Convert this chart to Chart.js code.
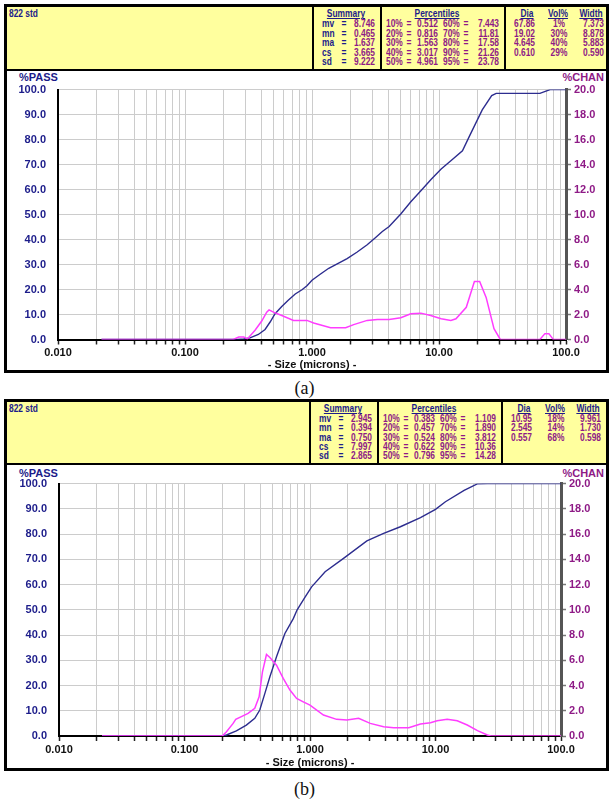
<!DOCTYPE html>
<html>
<head>
<meta charset="utf-8">
<script src="https://cdn.jsdelivr.net/npm/chart.js@4.4.1/dist/chart.umd.min.js"></script>
<style>
html,body{margin:0;padding:0;background:#fff;}
body{width:609px;height:800px;overflow:hidden;position:relative;font-family:"Liberation Sans",Arial,sans-serif;}
.box{position:absolute;box-sizing:border-box;border:3px solid #000;background:#fff;}
.hdr{position:absolute;box-sizing:border-box;background:#ffff9e;border-bottom:2px solid #000;}
.vdiv{position:absolute;width:2px;background:#000;}
.ht{position:absolute;transform-origin:0 50%;white-space:pre;font:bold 10.5px/14px "Liberation Sans",Arial,sans-serif;}
.lab{position:absolute;white-space:pre;font:bold 11px/14px "Liberation Sans",Arial,sans-serif;}
.cap{position:absolute;width:609px;left:0;text-align:center;font:18px/20px "Liberation Serif","DejaVu Serif",serif;color:#111;}
canvas{position:absolute;}
</style>
</head>
<body>
<script>
// ---------- data ----------
const xTickValues = [0.01, 0.1, 1, 10, 100];
const xTickLabels = ['0.010', '0.100', '1.000', '10.00', '100.0'];
const passTickValues = [0, 10, 20, 30, 40, 50, 60, 70, 80, 90, 100];
const chanTickValues = [0, 2, 4, 6, 8, 10, 12, 14, 16, 18, 20];

// (a) cumulative %PASS
const sizesPassA = [0.022, 0.26, 0.29, 0.325, 0.378, 0.427, 0.468, 0.512, 0.578, 0.653, 0.738, 0.834, 0.913, 1.0, 1.16, 1.355, 1.58, 1.89, 2.27, 2.72, 3.17, 3.58, 4.05, 5.0, 6.0, 7.2, 8.65, 10.4, 12.4, 15.3, 17.6, 21.9, 26.0, 28.2, 62.3, 75, 100];
const passA = [0, 0, 0.2, 0.66, 2.0, 4.0, 7.0, 10.3, 13.2, 15.8, 18.2, 19.9, 21.5, 23.7, 26.1, 28.5, 30.3, 32.4, 35.0, 37.9, 40.8, 43.2, 45.2, 50.2, 55.1, 59.5, 64.0, 68.2, 71.5, 75.5, 82.0, 91.9, 97.6, 98.5, 98.5, 100, 100];
// (a) channel %CHAN
const sizesChanA = [0.022, 0.24, 0.265, 0.29, 0.31, 0.356, 0.402, 0.44, 0.459, 0.497, 0.578, 0.715, 0.913, 1.03, 1.40, 1.84, 2.13, 2.72, 3.27, 4.05, 5.0, 6.0, 7.2, 8.6, 10.4, 12.4, 13.6, 16.4, 19.0, 20.9, 23.5, 27.1, 30.4, 62.3, 68.2, 73.3, 79.4, 100];
const chanA = [0, 0, 0.2, 0.2, 0.05, 0.74, 1.48, 2.19, 2.37, 2.19, 1.92, 1.53, 1.53, 1.32, 0.95, 0.95, 1.19, 1.53, 1.61, 1.61, 1.74, 2.06, 2.11, 1.92, 1.66, 1.53, 1.66, 2.58, 4.64, 4.64, 3.37, 0.87, 0, 0, 0.47, 0.47, 0, 0];

// (b) cumulative %PASS
const sizesPassB = [0.022, 0.2, 0.216, 0.259, 0.311, 0.363, 0.398, 0.437, 0.479, 0.541, 0.631, 0.736, 0.79, 0.90, 1.03, 1.32, 1.85, 2.84, 3.86, 5.25, 7.59, 10.0, 12.0, 16.9, 21.5, 25.9, 100];
const passB = [0, 0, 0.4, 2.0, 4.3, 7.0, 10.3, 16.9, 23.5, 31.4, 40.6, 46.5, 50.0, 54.5, 59.1, 65.1, 70.4, 77.3, 80.3, 82.9, 86.5, 89.8, 92.8, 97.3, 99.9, 100, 100];
// (b) channel %CHAN
const sizesChanB = [0.022, 0.2, 0.216, 0.244, 0.256, 0.284, 0.321, 0.363, 0.393, 0.418, 0.45, 0.479, 0.541, 0.612, 0.692, 0.782, 0.884, 1.0, 1.28, 1.63, 1.97, 2.44, 3.02, 3.86, 4.64, 6.12, 7.59, 9.12, 10.3, 12.4, 14.9, 17.9, 21.6, 25.9, 27.5, 100];
const chanB = [0, 0, 0.34, 1.0, 1.32, 1.53, 1.79, 2.19, 3.11, 5.09, 6.46, 6.22, 5.61, 4.56, 3.64, 2.98, 2.71, 2.45, 1.66, 1.32, 1.26, 1.40, 1.0, 0.74, 0.66, 0.66, 0.95, 1.05, 1.21, 1.32, 1.21, 0.87, 0.42, 0.08, 0, 0];

// header tables
const sampleName = '822 std';
const summaryLabels = ['mv', 'mn', 'ma', 'cs', 'sd'];
const pctLabelsL = ['10%', '20%', '30%', '40%', '50%'];
const pctLabelsR = ['60%', '70%', '80%', '90%', '95%'];
const summaryA = ['8.746', '0.465', '1.637', '3.665', '9.222'];
const pctA_L = ['0.512', '0.816', '1.563', '3.017', '4.961'];
const pctA_R = ['7.443', '11.81', '17.58', '21.26', '23.78'];
const diaA = ['67.86', '19.02', '4.645', '0.610'];
const volA = ['1%', '30%', '40%', '29%'];
const widthA = ['7.373', '8.878', '5.883', '0.590'];
const summaryB = ['2.945', '0.394', '0.750', '7.997', '2.865'];
const pctB_L = ['0.383', '0.457', '0.524', '0.622', '0.796'];
const pctB_R = ['1.109', '1.890', '3.812', '10.36', '14.28'];
const diaB = ['10.95', '2.545', '0.557'];
const volB = ['18%', '14%', '68%'];
const widthB = ['9.961', '1.730', '0.598'];

// ---------- styling ----------
const NAVY = '#1c1c8a';
const PURPLE = '#8e1a86';
const LINE_NAVY = '#2d2d8f';
const LINE_MAG = '#ff3cff';
const GRID = '#cccccc';
const SX = 0.8;
const FONT = '"Liberation Sans", Arial, sans-serif';

function el(cls, css, text) {
  const d = document.createElement('div');
  d.className = cls;
  Object.assign(d.style, css);
  if (text !== undefined) d.textContent = text;
  document.body.appendChild(d);
  return d;
}
function txt(s, x, y, align, color, underline) {
  let t;
  if (align === 'left') t = `scaleX(${SX})`;
  else if (align === 'right') t = `scaleX(${SX}) translateX(-100%)`;
  else t = `scaleX(${SX}) translateX(-50%)`;
  el('ht', {left: x + 'px', top: (y - 7) + 'px', color: color, transform: t,
            textDecoration: underline ? 'underline' : 'none'}, s);
}

const xGridValues = [];
for (let i = 0; i < xTickValues.length - 1; i++) {
  for (let m = 1; m <= 9; m++) xGridValues.push(+(m * xTickValues[i]).toPrecision(3));
}
xGridValues.push(xTickValues[xTickValues.length - 1]);

function pts(xs, ys) { return xs.map((x, i) => ({x: x, y: ys[i]})); }

function panel(g, d) {
  el('box', {left: '4px', top: g.boxTop + 'px', width: '605px', height: g.boxH + 'px'});
  const hTop = g.boxTop + 3;
  el('hdr', {left: '7px', top: hTop + 'px', width: '599px', height: g.hdrH + 'px'});
  const s = g.xs;
  [313, 381, 505].forEach(x => el('vdiv', {left: (x + s - 1) + 'px', top: hTop + 'px', height: g.hdrH + 'px'}));
  txt(sampleName, 9, g.hdrY, 'left', NAVY, false);
  txt('Summary', 346 + s, g.hdrY, 'center', NAVY, true);
  txt('Percentiles', 437 + s, g.hdrY, 'center', NAVY, true);
  txt('Dia', 527 + s, g.hdrY, 'center', NAVY, true);
  txt('Vol%', 558 + s, g.hdrY, 'center', NAVY, true);
  txt('Width', 591 + s, g.hdrY, 'center', NAVY, true);
  for (let i = 0; i < 5; i++) {
    const y = g.rowY0 + i * g.rowDy;
    txt(summaryLabels[i], 322 + s, y, 'left', NAVY);
    txt('=', 344 + s, y, 'center', NAVY);
    txt(d.summary[i], 375 + s, y, 'right', PURPLE);
    txt(pctLabelsL[i], 386 + s, y, 'left', PURPLE);
    txt('=', 409 + s, y, 'center', PURPLE);
    txt(d.pctL[i], 438 + s, y, 'right', PURPLE);
    txt(pctLabelsR[i], 443 + s, y, 'left', PURPLE);
    txt('=', 466 + s, y, 'center', PURPLE);
    txt(d.pctR[i], 499 + s, y, 'right', PURPLE);
  }
  for (let i = 0; i < d.dia.length; i++) {
    const y = g.rowY0 + i * g.rowDy;
    txt(d.dia[i], 514 + s, y, 'left', PURPLE);
    txt(d.vol[i], 559 + s, y, 'center', PURPLE);
    txt(d.width[i], 604 + s, y, 'right', PURPLE);
  }
  el('lab', {left: '19px', top: (g.labelY - 7) + 'px', color: NAVY}, '%PASS');
  el('lab', {right: (609 - 604) + 'px', top: (g.labelY - 7) + 'px', color: PURPLE}, '%CHAN');
  el('cap', {top: (g.capY - 10) + 'px'}, d.caption);

  const cv = document.createElement('canvas');
  const cTop = hTop + g.hdrH;
  const cH = g.boxTop + g.boxH - 3 - cTop;
  cv.width = 599; cv.height = cH;
  cv.style.left = '7px'; cv.style.top = cTop + 'px';
  cv.style.width = '599px'; cv.style.height = cH + 'px';
  document.body.appendChild(cv);

  const tickFont = {family: FONT, size: 11, weight: 'bold'};
  new Chart(cv, {
    type: 'line',
    data: {
      datasets: [
        {label: '%CHAN', data: pts(d.chanSizes, d.chan), yAxisID: 'y1', borderColor: LINE_MAG, borderWidth: 1.5, pointRadius: 0, tension: 0, fill: false},
        {label: '%PASS', data: pts(d.passSizes, d.pass), yAxisID: 'y', borderColor: LINE_NAVY, borderWidth: 1.4, pointRadius: 0, tension: 0, fill: false}
      ]
    },
    options: {
      responsive: false, animation: false, devicePixelRatio: 1,
      layout: {padding: {top: g.pt, left: 0, right: 0, bottom: 0}},
      plugins: {legend: {display: false}, tooltip: {enabled: false}},
      scales: {
        x: {
          type: 'logarithmic', min: 0.01, max: 100,
          afterBuildTicks: sc => { sc.ticks = xGridValues.map(v => ({value: v})); },
          afterFit: sc => { sc.height = g.xh; },
          ticks: {
            autoSkip: false, maxRotation: 0, minRotation: 0, padding: 2, color: '#111', font: tickFont,
            callback: v => {
              const i = xTickValues.findIndex(t => Math.abs(Math.log10(t) - Math.log10(v)) < 1e-6);
              return i >= 0 ? xTickLabels[i] : '';
            }
          },
          grid: {color: GRID, lineWidth: 1, tickColor: '#222', tickLength: 5, tickWidth: 1.5},
          border: {color: '#000', width: 2},
          title: {display: true, text: '- Size (microns) -', color: '#111', font: {family: FONT, size: 11, weight: 'bold', lineHeight: 1}, padding: {top: 0, bottom: 0}}
        },
        y: {
          position: 'left', min: 0, max: 100,
          afterBuildTicks: sc => { sc.ticks = passTickValues.map(v => ({value: v})); },
          afterFit: sc => { sc.width = g.lw; },
          ticks: {color: NAVY, font: tickFont, padding: 12, callback: v => Number(v).toFixed(1)},
          grid: {color: GRID, lineWidth: 1, drawTicks: false},
          border: {color: '#000', width: 2}
        },
        y1: {
          position: 'right', min: 0, max: 20,
          afterBuildTicks: sc => { sc.ticks = chanTickValues.map(v => ({value: v})); },
          afterFit: sc => { sc.width = g.rw; },
          ticks: {color: PURPLE, font: tickFont, padding: 3, callback: v => Number(v).toFixed(1)},
          grid: {drawOnChartArea: false, tickColor: '#777', tickLength: 5, tickWidth: 1.5},
          border: {color: '#555', width: 3}
        }
      }
    }
  });
}

panel({boxTop: 4, boxH: 369, hdrH: 64, pt: 16, lw: 51, rw: 40, xh: 30.5, labelY: 77, capY: 388, xs: 0, hdrY: 13.3, rowY0: 23.3, rowDy: 9.4},
      {summary: summaryA, pctL: pctA_L, pctR: pctA_R, dia: diaA, vol: volA, width: widthA,
       passSizes: sizesPassA, pass: passA, chanSizes: sizesChanA, chan: chanA, caption: '(a)'});
panel({boxTop: 399, boxH: 372, hdrH: 63, pt: 17, lw: 52, rw: 45, xh: 32, labelY: 473, capY: 789, xs: -3, hdrY: 408.3, rowY0: 417.7, rowDy: 9.4},
      {summary: summaryB, pctL: pctB_L, pctR: pctB_R, dia: diaB, vol: volB, width: widthB,
       passSizes: sizesPassB, pass: passB, chanSizes: sizesChanB, chan: chanB, caption: '(b)'});
</script>
</body>
</html>
